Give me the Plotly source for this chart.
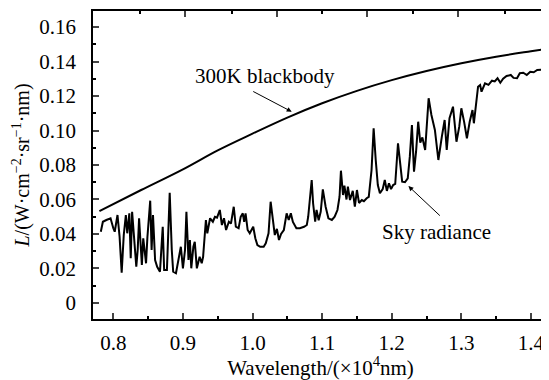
import plotly.graph_objects as go

# ---- data ----
bb_x = [0.78, 0.84, 0.90, 0.95, 1.00, 1.05, 1.10, 1.15, 1.20, 1.25, 1.30, 1.35, 1.40, 1.426]
bb_y = [0.0533, 0.0655, 0.0775, 0.0885, 0.0982, 0.1075, 0.1158, 0.1230, 0.1292, 0.1345,
        0.1390, 0.1428, 0.1460, 0.1476]

sky_x = [0.782, 0.785, 0.790, 0.796, 0.800, 0.802, 0.806, 0.809, 0.812, 0.815, 0.818, 0.820,
         0.823, 0.825, 0.827, 0.830, 0.833, 0.835, 0.837, 0.841, 0.843, 0.847, 0.849, 0.853,
         0.855, 0.857, 0.860, 0.863, 0.867, 0.871, 0.873, 0.877, 0.881, 0.884, 0.886, 0.890,
         0.893, 0.897, 0.900, 0.903, 0.905, 0.908, 0.910, 0.912, 0.915, 0.917, 0.920, 0.924,
         0.927, 0.929, 0.933, 0.935, 0.939, 0.943, 0.946, 0.949, 0.953, 0.956, 0.959, 0.962,
         0.966, 0.969, 0.973, 0.976, 0.980, 0.983, 0.986, 0.988, 0.990, 0.993, 0.996, 1.001,
         1.004, 1.007, 1.011, 1.016, 1.019, 1.023, 1.026, 1.029, 1.032, 1.035, 1.038, 1.041,
         1.045, 1.049, 1.052, 1.055, 1.058, 1.063, 1.068, 1.074, 1.078, 1.080, 1.085, 1.087,
         1.090, 1.092, 1.095, 1.098, 1.101, 1.105, 1.109, 1.114, 1.118, 1.122, 1.125, 1.127,
         1.130, 1.132, 1.135, 1.137, 1.140, 1.144, 1.147, 1.150, 1.153, 1.157, 1.160, 1.164,
         1.167, 1.171, 1.174, 1.177, 1.180, 1.183, 1.187, 1.190, 1.193, 1.196, 1.199, 1.202,
         1.205, 1.209, 1.212, 1.215, 1.219, 1.223, 1.226, 1.229, 1.232, 1.235, 1.238, 1.241,
         1.244, 1.248, 1.253, 1.257, 1.262, 1.267, 1.272, 1.276, 1.279, 1.283, 1.288, 1.291,
         1.293, 1.297, 1.300, 1.304, 1.308, 1.312, 1.316, 1.318, 1.321, 1.324, 1.327, 1.329,
         1.334, 1.339, 1.344, 1.348, 1.352, 1.356, 1.360, 1.365, 1.371, 1.375, 1.380, 1.384,
         1.389, 1.394, 1.399, 1.404, 1.409, 1.416, 1.423, 1.428]
sky_y = [0.0413, 0.0471, 0.0481, 0.0491, 0.0433, 0.0413, 0.0510, 0.0384, 0.0176, 0.0394, 0.0510, 0.0404,
         0.0520, 0.0259, 0.0529, 0.0380, 0.0210, 0.0307, 0.0491, 0.0220, 0.0375, 0.0230, 0.0384, 0.0593,
         0.0307, 0.0510, 0.0249, 0.0210, 0.0181, 0.0442, 0.0191, 0.0191, 0.0639, 0.0307, 0.0181, 0.0172,
         0.0230, 0.0326, 0.0201, 0.0307, 0.0529, 0.0249, 0.0365, 0.0201, 0.0326, 0.0355, 0.0201, 0.0268,
         0.0230, 0.0268, 0.0481, 0.0404, 0.0491, 0.0471, 0.0500, 0.0495, 0.0539, 0.0452, 0.0491, 0.0423,
         0.0471, 0.0460, 0.0558, 0.0442, 0.0433, 0.0500, 0.0520, 0.0470, 0.0520, 0.0423, 0.0404, 0.0442,
         0.0375, 0.0336, 0.0326, 0.0326, 0.0346, 0.0404, 0.0587, 0.0471, 0.0394, 0.0430, 0.0365, 0.0400,
         0.0423, 0.0520, 0.0481, 0.0520, 0.0470, 0.0433, 0.0433, 0.0442, 0.0452, 0.0500, 0.0713, 0.0578,
         0.0471, 0.0540, 0.0480, 0.0530, 0.0659, 0.0558, 0.0491, 0.0481, 0.0500, 0.0539, 0.0616, 0.0767,
         0.0626, 0.0680, 0.0600, 0.0674, 0.0597, 0.0650, 0.0558, 0.0655, 0.0580, 0.0597, 0.0590, 0.0607,
         0.0615, 0.0771, 0.1013, 0.0829, 0.0684, 0.0636, 0.0660, 0.0713, 0.0650, 0.0694, 0.0660, 0.0684,
         0.0690, 0.0926, 0.0790, 0.0703, 0.0700, 0.0723, 0.0850, 0.1032, 0.0761, 0.0880, 0.1051, 0.0930,
         0.0960, 0.0887, 0.1187, 0.1090, 0.1003, 0.0829, 0.0964, 0.1061, 0.0887, 0.1071, 0.1138, 0.1022,
         0.0935, 0.1022, 0.1129, 0.1050, 0.0955, 0.1051, 0.1119, 0.1042, 0.1148, 0.1254, 0.1264, 0.1225,
         0.1274, 0.1265, 0.1289, 0.1285, 0.1303, 0.1277, 0.1300, 0.1316, 0.1322, 0.1305, 0.1303, 0.1332,
         0.1335, 0.1322, 0.1341, 0.1338, 0.1351, 0.1352, 0.1360, 0.1362]

x_ticks = [0.8, 0.9, 1.0, 1.1, 1.2, 1.3, 1.4]
x_ticktext = ["0.8", "0.9", "1.0", "1.1", "1.2", "1.3", "1.4"]
x_minor = [0.85, 0.95, 1.05, 1.15, 1.25, 1.35]
y_ticks = [0, 0.02, 0.04, 0.06, 0.08, 0.10, 0.12, 0.14, 0.16]
y_ticktext = ["0", "0.02", "0.04", "0.06", "0.08", "0.10", "0.12", "0.14", "0.16"]
y_minor = [0.01, 0.03, 0.05, 0.07, 0.09, 0.11, 0.13, 0.15]
top_major = [0.903, 1.0348, 1.164, 1.2957]
top_minor = [0.8384, 0.970, 1.0994, 1.231, 1.3628]
right_ticks = [0.0087, 0.0268, 0.0442, 0.0616, 0.080, 0.0984, 0.1167, 0.1348, 0.153]

X_RANGE = [0.7708, 1.4245]
Y_RANGE = [-0.0093, 0.1693]
FONT = "Liberation Serif"
TICKFONT = dict(family=FONT, size=21, color="black")

fig = go.Figure()
fig.add_trace(go.Scatter(x=bb_x, y=bb_y, mode="lines", line=dict(color="black", width=2, shape="spline"),
                         showlegend=False, hoverinfo="skip"))
fig.add_trace(go.Scatter(x=sky_x, y=sky_y, mode="lines", line=dict(color="black", width=2),
                         showlegend=False, hoverinfo="skip"))
fig.add_trace(go.Scatter(x=[None], y=[None], xaxis="x2", yaxis="y2", showlegend=False, hoverinfo="skip"))

# page body has an 8px default margin, so the figure is 8px smaller and margins shifted
fig.update_layout(
    width=541, height=372,
    margin=dict(l=85, r=1, t=3, b=61),
    paper_bgcolor="white", plot_bgcolor="white",
    font=dict(family=FONT, size=21, color="black"),
    xaxis=dict(range=X_RANGE, tickvals=x_ticks, ticktext=x_ticktext, ticks="inside", ticklen=6,
               tickwidth=1.5, showline=True, linewidth=1.5, linecolor="black", showgrid=False,
               zeroline=False, ticklabelstandoff=4, tickfont=TICKFONT,
               minor=dict(tickvals=x_minor, ticks="inside", ticklen=3,
                          tickwidth=1.5, tickcolor="black"),
               title=dict(text="Wavelength/(×10<sup>4</sup>nm)", font=dict(family=FONT, size=21), standoff=4)),
    yaxis=dict(range=Y_RANGE, tickvals=y_ticks, ticktext=y_ticktext, ticks="inside", ticklen=6,
               tickwidth=1.5, showline=True, linewidth=1.5, linecolor="black", showgrid=False,
               zeroline=False, ticklabelstandoff=11, tickfont=TICKFONT,
               minor=dict(tickvals=y_minor, ticks="inside",
                          ticklen=3, tickwidth=1.5, tickcolor="black"),
               title=dict(text="<i>L</i>/(W·cm<sup>−2</sup>·sr<sup>−1</sup>·nm)",
                          font=dict(family=FONT, size=20), standoff=4)),
    xaxis2=dict(range=X_RANGE, overlaying="x", side="top", tickvals=top_major, ticks="inside",
                ticklen=6, tickwidth=1.5, showticklabels=False, showline=True, linewidth=1.5,
                linecolor="black", showgrid=False, zeroline=False,
                minor=dict(tickvals=top_minor, ticks="inside", ticklen=3, tickwidth=1.5, tickcolor="black")),
    yaxis2=dict(range=Y_RANGE, overlaying="y", side="right", tickvals=right_ticks, ticks="inside",
                ticklen=5, tickwidth=1.5, showticklabels=False, showline=True, linewidth=1.5,
                linecolor="black", showgrid=False, zeroline=False),
)

fig.add_annotation(x=1.0563, y=0.1109, ax=-40, ay=-21, xref="x", yref="y", text="", showarrow=True,
                   arrowhead=2, arrowsize=1, arrowwidth=1, arrowcolor="black")
fig.add_annotation(x=1.2239, y=0.0678, ax=33, ay=31, xref="x", yref="y", text="", showarrow=True,
                   arrowhead=2, arrowsize=1, arrowwidth=1, arrowcolor="black")
fig.add_annotation(x=1.018, y=0.1316, xref="x", yref="y", text="300K blackbody", showarrow=False,
                   font=dict(family=FONT, size=21))
fig.add_annotation(x=1.2637, y=0.0412, xref="x", yref="y", text="Sky radiance", showarrow=False,
                   font=dict(family=FONT, size=21))

fig.write_html("out.html")
